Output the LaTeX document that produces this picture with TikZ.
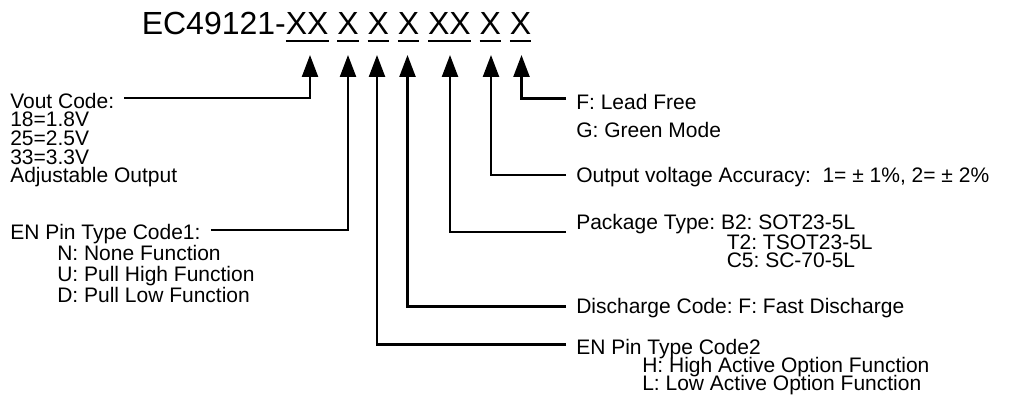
\documentclass[tikz,border=0pt]{standalone}
\usepackage{fontspec}
\setmainfont{Liberation Sans}
\usepackage{tikz}
\usetikzlibrary{arrows.meta, positioning}
\frenchspacing
\newcommand{\codeul}[1]{\setbox0\hbox{#1}\rlap{\rule[-5.3pt]{\wd0}{1.1pt}}\box0\relax}
\tikzset{
  partno/.style={font=\fontsize{24pt}{28pt}\selectfont, anchor=base west, inner sep=0pt},
  txt/.style={font=\fontsize{15.75pt}{14pt}\selectfont, anchor=base west,
    inner xsep=7.5pt, inner ysep=0pt},
  arrow/.style={-{Triangle[length=16.5pt, width=12pt]}, line width=1.8pt, color=black}
}
\begin{document}
\begin{tikzpicture}[x=0.75pt, y=-0.75pt]
  \useasboundingbox (0,0) rectangle (1016,403);

  % Part number
  \node[partno] (code) at (141.5,34.5) {EC49121-\codeul{XX} \codeul{X} \codeul{X} \codeul{X} \codeul{XX} \codeul{X} \codeul{X}};
  \foreach \name/\x in {vo/310, enA/348, enB/377, dc/407.5, pk/450, ac/491, lf/521.5}
    \coordinate (tip\name) at (\x,55);

  % Left side
  \node[txt] (vout) at (0,108.3) {Vout Code:};
  \foreach \t [count=\i from 0] in {18=1.8V, 25=2.5V, 33=3.3V, Adjustable Output}
    \node[txt] (vout-\i) at (0,{126.7+18.7*\i}) {\t};
  \node[txt] (enone) at (0,239.3) {EN Pin Type Code1:};
  \foreach \t [count=\i from 0] in {N: None Function, U: Pull High Function, D: Pull Low Function}
    \node[txt] (enone-\i) at (47,{260+21*\i}) {\t};

  % Right side
  \node[txt] (lead) at (566,109.3) {F: Lead Free};
  \node[txt] (green) at (566,137.3) {G: Green Mode};
  \node[txt] (acc) at (566,182.7) {Output voltage Accuracy:\ \ 1= ± 1\%, 2= ± 2\%};
  \node[txt] (pkg) at (566,229.3) {Package Type: B2: SOT23-5L};
  \foreach \t [count=\i from 0] in {T2: TSOT23-5L, C5: SC-70-5L}
    \node[txt] (pkg-\i) at (716.5,{249.3+18.4*\i}) {\t};
  \node[txt] (dis) at (566,313.3) {Discharge Code: F: Fast Discharge};
  \node[txt] (entwo) at (566,354) {EN Pin Type Code2};
  \foreach \t [count=\i from 0] in {H: High Active Option Function, L: Low Active Option Function}
    \node[txt] (entwo-\i) at (632,{372.7+18*\i}) {\t};

  % Connectors
  \draw[arrow] (vout.east |- 0,98) -| (tipvo);
  \draw[arrow] (enone.east |- 0,230) -| (tipenA);
  \draw[arrow] (entwo.west |- 0,344.5) -| (tipenB);
  \draw[arrow] (dis.west |- 0,306.5) -| (tipdc);
  \draw[arrow] (pkg.west |- 0,231.7) -| (tippk);
  \draw[arrow] (acc.west |- 0,175) -| (tipac);
  \draw[arrow] (lead.west |- 0,98.3) -| (tiplf);
\end{tikzpicture}
\end{document}
